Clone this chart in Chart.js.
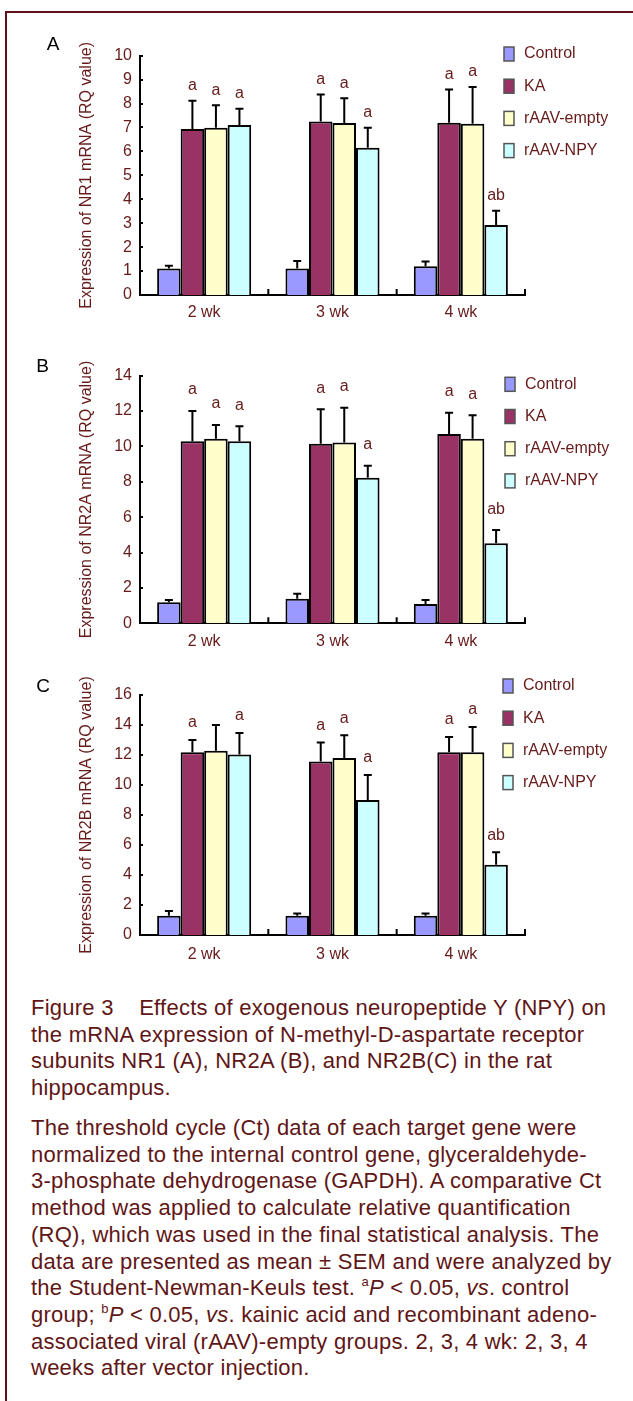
<!DOCTYPE html>
<html>
<head>
<meta charset="utf-8">
<script src="https://cdn.jsdelivr.net/npm/chart.js@4.4.1/dist/chart.umd.min.js"></script>
<style>
  html, body { margin: 0; padding: 0; background: #fff; }
  body { width: 633px; height: 1401px; position: relative; overflow: hidden; font-family: "Liberation Sans", Arial, sans-serif; }
  #frame { position: absolute; left: 5px; top: 11px; right: -10px; bottom: -10px; border-top: 2px solid #5e1218; border-left: 2px solid #5e1218; }
  canvas { position: absolute; left: 0; }
  .letter { position: absolute; font-size: 19px; color: #000; line-height: 1; transform: translate(-50%, -50%); }
  .cap { position: absolute; left: 31px; white-space: nowrap; font-size: 22px; letter-spacing: 0.25px; line-height: 26.7px; color: #5f1616; }
  .cap sup { font-size: 13px; line-height: 0; vertical-align: 9px; }
</style>
</head>
<body>
<div id="frame"></div>
<canvas id="cA" width="633" height="330" style="top:0px"></canvas>
<canvas id="cB" width="633" height="330" style="top:330px"></canvas>
<canvas id="cC" width="633" height="330" style="top:650px"></canvas>
<div class="letter" style="left:53px;top:43px">A</div>
<div class="letter" style="left:42.5px;top:365px">B</div>
<div class="letter" style="left:43px;top:685px">C</div>
<div class="cap" style="top:995px">Figure 3&nbsp;&nbsp;&nbsp;&nbsp;Effects of exogenous neuropeptide Y (NPY) on<br>the mRNA expression of N-methyl-D-aspartate receptor<br>subunits NR1 (A), NR2A (B), and NR2B(C) in the rat<br>hippocampus.</div>
<div class="cap" style="top:1115px">The threshold cycle (Ct) data of each target gene were<br>normalized to the internal control gene, glyceraldehyde-<br>3-phosphate dehydrogenase (GAPDH). A comparative Ct<br>method was applied to calculate relative quantification<br>(RQ), which was used in the final statistical analysis. The<br>data are presented as mean ± SEM and were analyzed by<br>the Student-Newman-Keuls test. <sup>a</sup><i>P</i> &lt; 0.05, <i>vs</i>. control<br>group; <sup>b</sup><i>P</i> &lt; 0.05, <i>vs</i>. kainic acid and recombinant adeno-<br>associated viral (rAAV)-empty groups. 2, 3, 4 wk: 2, 3, 4<br>weeks after vector injection.</div>
<script>
// ---------- DATA ----------
const categories = ['2 wk', '3 wk', '4 wk'];
const groups = ['Control', 'KA', 'rAAV-empty', 'rAAV-NPY'];

// Panel A: NR1
const nr1Control = [1.11, 1.11, 1.20];
const nr1KA      = [6.94, 7.25, 7.20];
const nr1Empty   = [6.99, 7.19, 7.16];
const nr1NPY     = [7.10, 6.15, 2.92];
const nr1ControlSem = [0.11, 0.31, 0.20];
const nr1KASem      = [1.18, 1.13, 1.39];
const nr1EmptySem   = [0.94, 1.03, 1.53];
const nr1NPYSem     = [0.68, 0.84, 0.60];
const nr1ControlSig = ['', '', ''];
const nr1KASig      = ['a', 'a', 'a'];
const nr1EmptySig   = ['a', 'a', 'a'];
const nr1NPYSig     = ['a', 'a', 'ab'];
const nr1Ticks = [0, 1, 2, 3, 4, 5, 6, 7, 8, 9, 10];

// Panel B: NR2A
const nr2aControl = [1.19, 1.39, 1.09];
const nr2aKA      = [10.30, 10.15, 10.70];
const nr2aEmpty   = [10.44, 10.23, 10.44];
const nr2aNPY     = [10.30, 8.23, 4.52];
const nr2aControlSem = [0.13, 0.28, 0.23];
const nr2aKASem      = [1.70, 1.96, 1.20];
const nr2aEmptySem   = [0.77, 1.96, 1.32];
const nr2aNPYSem     = [0.84, 0.68, 0.75];
const nr2aControlSig = ['', '', ''];
const nr2aKASig      = ['a', 'a', 'a'];
const nr2aEmptySig   = ['a', 'a', 'a'];
const nr2aNPYSig     = ['a', 'a', 'ab'];
const nr2aTicks = [0, 2, 4, 6, 8, 10, 12, 14];

// Panel C: NR2B
const nr2bControl = [1.29, 1.29, 1.29];
const nr2bKA      = [12.18, 11.56, 12.18];
const nr2bEmpty   = [12.29, 11.80, 12.18];
const nr2bNPY     = [12.04, 9.00, 4.69];
const nr2bControlSem = [0.31, 0.15, 0.15];
const nr2bKASem      = [0.82, 1.28, 1.02];
const nr2bEmptySem   = [1.71, 1.51, 1.69];
const nr2bNPYSem     = [1.43, 1.67, 0.82];
const nr2bControlSig = ['', '', ''];
const nr2bKASig      = ['a', 'a', 'a'];
const nr2bEmptySig   = ['', 'a', 'a'];
const nr2bNPYSig     = ['a', 'a', 'ab'];
const nr2bTicks = [0, 2, 4, 6, 8, 10, 12, 14, 16];

// ---------- STYLE ----------
const TEXT = '#661a1a';
const FONT = '"Liberation Sans", Arial, sans-serif';
const fills = ['#9999ff', '#993366', '#ffffcc', '#ccffff'];
Chart.defaults.font.family = FONT;
Chart.defaults.font.size = 16;
Chart.defaults.color = TEXT;

const extras = {
  id: 'extras',
  afterDatasetsDraw(chart, args, o) {
    const ctx = chart.ctx, y = chart.scales.y;
    chart.data.datasets.forEach((ds, i) => {
      const meta = chart.getDatasetMeta(i);
      meta.data.forEach((bar, j) => {
        const top = y.getPixelForValue(ds.data[j] + ds.sem[j]);
        ctx.save();
        ctx.strokeStyle = '#000'; ctx.lineWidth = 2;
        ctx.beginPath();
        ctx.moveTo(bar.x, bar.y); ctx.lineTo(bar.x, top);
        ctx.moveTo(bar.x - 4, top); ctx.lineTo(bar.x + 4, top);
        ctx.stroke();
        if (ds.sig[j]) {
          ctx.fillStyle = TEXT; ctx.font = '16px ' + FONT;
          ctx.textAlign = 'center'; ctx.textBaseline = 'middle';
          ctx.fillText(ds.sig[j], bar.x, top - o.labelGap);
        }
        ctx.restore();
      });
    });
  },
  afterDraw(chart, args, o) {
    const ctx = chart.ctx, x = chart.scales.x, y = chart.scales.y;
    const area = chart.chartArea;
    ctx.save();
    ctx.strokeStyle = '#000'; ctx.lineWidth = 2;
    ctx.beginPath();
    y.ticks.forEach(t => {
      const py = Math.round(y.getPixelForValue(t.value));
      ctx.moveTo(area.left - 1, py); ctx.lineTo(area.left + 3, py);
    });
    const half = (x.getPixelForValue(1) - x.getPixelForValue(0)) / 2;
    chart.data.labels.forEach((l, i) => {
      const px = x.getPixelForValue(i) + half;
      ctx.moveTo(px, area.bottom); ctx.lineTo(px, area.bottom - 6);
    });
    ctx.stroke();
    // legend
    ctx.font = '16px ' + FONT; ctx.textAlign = 'left'; ctx.textBaseline = 'middle';
    chart.data.datasets.forEach((ds, i) => {
      const cy = o.legendY + i * 32.2;
      ctx.fillStyle = ds.backgroundColor;
      ctx.fillRect(o.legendX, cy - 7, 10, 14);
      ctx.strokeStyle = '#555'; ctx.lineWidth = 1.5;
      ctx.strokeRect(o.legendX, cy - 7, 10, 14);
      ctx.fillStyle = TEXT;
      ctx.fillText(ds.label, o.legendX + 20, cy);
    });
    ctx.restore();
  }
};

function makePanel(id, title, series, sems, sigs, ticks, pad, xPad, labelGap, legendY, legendX) {
  new Chart(document.getElementById(id), {
    type: 'bar',
    data: {
      labels: categories,
      datasets: groups.map((g, i) => ({
        label: g, data: series[i], sem: sems[i], sig: sigs[i],
        backgroundColor: fills[i], borderColor: '#000', borderWidth: 2,
        borderSkipped: 'start', categoryPercentage: 0.733, barPercentage: 1.0
      }))
    },
    options: {
      responsive: false, animation: false, devicePixelRatio: 1,
      layout: { padding: pad },
      plugins: { legend: { display: false }, tooltip: { enabled: false },
                 extras: { labelGap: labelGap, legendY: legendY, legendX: legendX } },
      scales: {
        x: {
          grid: { display: false, drawTicks: false },
          border: { display: true, color: '#000', width: 2 },
          ticks: { color: TEXT, padding: xPad, font: { size: 16 } },
          afterFit(s) { s.height = 35; }
        },
        y: {
          min: ticks[0], max: ticks[ticks.length - 1],
          afterBuildTicks(s) { s.ticks = ticks.map(v => ({ value: v })); },
          grid: { display: false, drawTicks: false },
          border: { display: true, color: '#000', width: 2 },
          ticks: { color: TEXT, padding: 8, font: { size: 16 } },
          title: { display: true, text: title, color: TEXT, font: { size: 16 }, padding: { top: 7, bottom: 0 } },
          afterFit(s) { s.width = 70; }
        }
      }
    },
    plugins: [extras]
  });
}

makePanel('cA', 'Expression of NR1 mRNA (RQ value)',
  [nr1Control, nr1KA, nr1Empty, nr1NPY],
  [nr1ControlSem, nr1KASem, nr1EmptySem, nr1NPYSem],
  [nr1ControlSig, nr1KASig, nr1EmptySig, nr1NPYSig],
  nr1Ticks, { left: 70, right: 108, top: 55.7, bottom: 0 }, 8, 15, 54, 504);

makePanel('cB', 'Expression of NR2A mRNA (RQ value)',
  [nr2aControl, nr2aKA, nr2aEmpty, nr2aNPY],
  [nr2aControlSem, nr2aKASem, nr2aEmptySem, nr2aNPYSem],
  [nr2aControlSig, nr2aKASig, nr2aEmptySig, nr2aNPYSig],
  nr2aTicks, { left: 70, right: 108, top: 45.7, bottom: 1.7 }, 9, 21, 54.3, 505);

makePanel('cC', 'Expression of NR2B mRNA (RQ value)',
  [nr2bControl, nr2bKA, nr2bEmpty, nr2bNPY],
  [nr2bControlSem, nr2bKASem, nr2bEmptySem, nr2bNPYSem],
  [nr2bControlSig, nr2bKASig, nr2bEmptySig, nr2bNPYSig],
  nr2bTicks, { left: 70, right: 108, top: 45, bottom: 10 }, 10, 17, 36, 503);
</script>
</body>
</html>
